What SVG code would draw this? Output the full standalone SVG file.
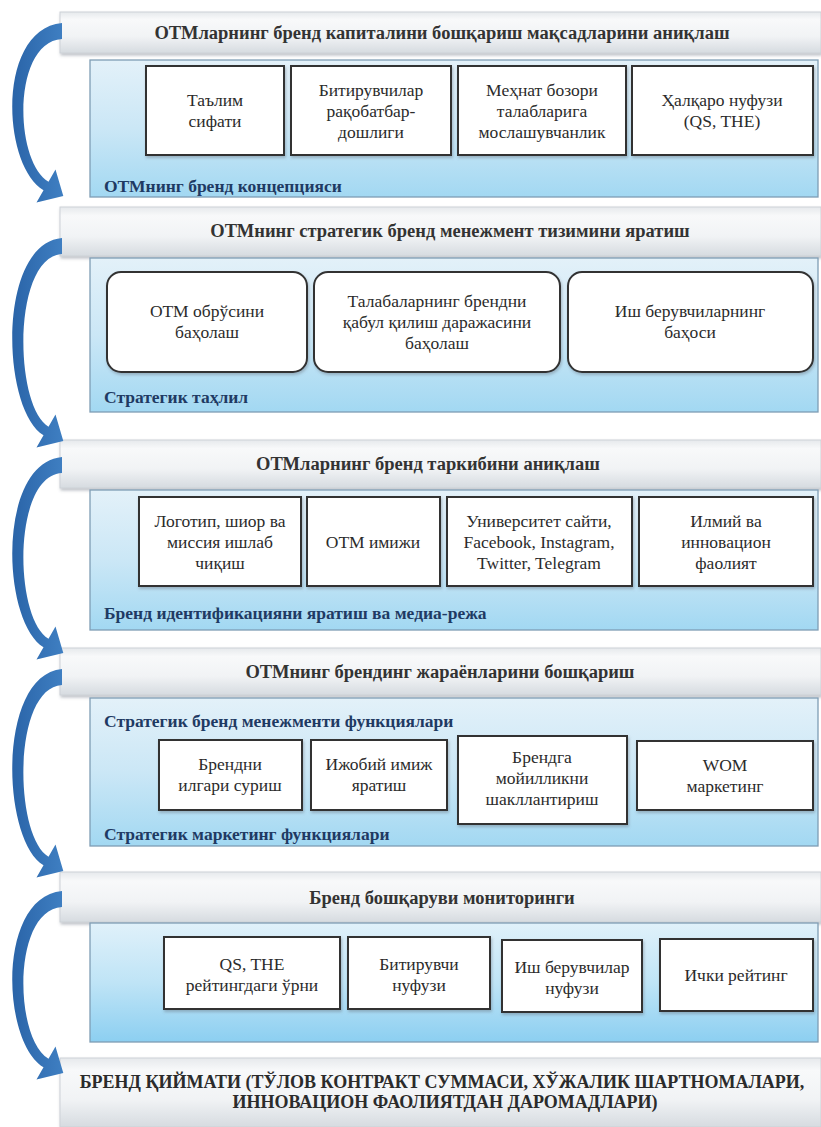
<svg xmlns="http://www.w3.org/2000/svg" width="821" height="1127" viewBox="0 0 821 1127">
<defs>
<linearGradient id="bandGrad" x1="0" y1="0" x2="0" y2="1">
<stop offset="0" stop-color="#e6e9ec"/>
<stop offset="0.18" stop-color="#f8f9fa"/>
<stop offset="0.6" stop-color="#f1f3f5"/>
<stop offset="1" stop-color="#d6dbe0"/>
</linearGradient>
<linearGradient id="panelGrad" x1="0" y1="0" x2="0" y2="1">
<stop offset="0" stop-color="#e3f1f9"/>
<stop offset="0.5" stop-color="#cbe7f6"/>
<stop offset="1" stop-color="#a2d8f2"/>
</linearGradient>
<linearGradient id="panelGrad5" x1="0" y1="0" x2="0" y2="1">
<stop offset="0" stop-color="#e0f1fa"/>
<stop offset="0.5" stop-color="#bfe4f6"/>
<stop offset="1" stop-color="#8ccff1"/>
</linearGradient>
<linearGradient id="arrowGrad" x1="0" y1="0" x2="1" y2="0">
<stop offset="0" stop-color="#2a64a8"/>
<stop offset="1" stop-color="#3f7fc2"/>
</linearGradient>
<filter id="sh" x="-5%" y="-10%" width="110%" height="130%">
<feDropShadow dx="1" dy="2" stdDeviation="1.5" flood-color="#6b7480" flood-opacity="0.45"/>
</filter>
</defs>
<style>
.band{fill:url(#bandGrad);stroke:#cdd2d7;stroke-width:1}
.panel{fill:url(#panelGrad);stroke:#7f9db4;stroke-width:1.3}
.box{fill:#ffffff;stroke:#333333;stroke-width:2}
.arrow{fill:url(#arrowGrad)}
text{font-family:"Liberation Serif","DejaVu Serif","Times New Roman",serif}
.t{font-size:17.5px;fill:#2b2b2b;text-anchor:middle}
.h{font-size:18.5px;font-weight:bold;fill:#333333;text-anchor:middle}
.lbl{font-size:17.5px;font-weight:bold;fill:#1f3a63}
.btm{font-size:18px;font-weight:bold;fill:#2b2b2b;text-anchor:middle}
</style>
<rect width="821" height="1127" fill="#ffffff"/>

<g id="section1">
<rect class="band" x="60" y="12" width="761" height="41" filter="url(#sh)"/>
<text class="h" x="442" y="39">ОТМларнинг бренд капиталини бошқариш мақсадларини аниқлаш</text>
<rect class="panel" x="90" y="60" width="728" height="137"/>
<g id="s1b1"><rect class="box" x="146" y="66" width="138" height="89" filter="url(#sh)"/>
<text class="t" x="215" y="106">Таълим</text><text class="t" x="215" y="127">сифати</text></g>
<g id="s1b2"><rect class="box" x="291" y="66" width="160" height="89" filter="url(#sh)"/>
<text class="t" x="371" y="96">Битирувчилар</text><text class="t" x="371" y="117">рақобатбар-</text><text class="t" x="371" y="138">дошлиги</text></g>
<g id="s1b3"><rect class="box" x="458" y="66" width="168" height="89" filter="url(#sh)"/>
<text class="t" x="542" y="96">Меҳнат бозори</text><text class="t" x="542" y="117">талабларига</text><text class="t" x="542" y="138">мослашувчанлик</text></g>
<g id="s1b4"><rect class="box" x="632" y="66" width="181" height="89" filter="url(#sh)"/>
<text class="t" x="722" y="106">Ҳалқаро нуфузи</text><text class="t" x="722" y="127">(QS, THE)</text></g>
<text class="lbl" x="104" y="192">ОТМнинг бренд концепцияси</text>
</g>

<g id="section2">
<rect class="band" x="60" y="207" width="761" height="49" filter="url(#sh)"/>
<text class="h" x="450" y="237">ОТМнинг стратегик бренд менежмент тизимини яратиш</text>
<rect class="panel" x="90" y="258" width="728" height="154"/>
<g id="s2b1"><rect class="box" x="107" y="272" width="200" height="100" rx="14" filter="url(#sh)"/>
<text class="t" x="207" y="317">ОТМ обрўсини</text><text class="t" x="207" y="338">баҳолаш</text></g>
<g id="s2b2"><rect class="box" x="314" y="272" width="246" height="100" rx="14" filter="url(#sh)"/>
<text class="t" x="437" y="307">Талабаларнинг брендни</text><text class="t" x="437" y="328">қабул қилиш даражасини</text><text class="t" x="437" y="349">баҳолаш</text></g>
<g id="s2b3"><rect class="box" x="568" y="272" width="245" height="100" rx="14" filter="url(#sh)"/>
<text class="t" x="690" y="317">Иш берувчиларнинг</text><text class="t" x="690" y="338">баҳоси</text></g>
<text class="lbl" x="104" y="403">Стратегик таҳлил</text>
</g>

<g id="section3">
<rect class="band" x="60" y="440" width="761" height="48" filter="url(#sh)"/>
<text class="h" x="428" y="470">ОТМларнинг бренд таркибини аниқлаш</text>
<rect class="panel" x="90" y="490" width="728" height="140"/>
<g id="s3b1"><rect class="box" x="139" y="497" width="162" height="89" filter="url(#sh)"/>
<text class="t" x="220" y="527">Логотип, шиор ва</text><text class="t" x="220" y="548">миссия ишлаб</text><text class="t" x="220" y="569">чиқиш</text></g>
<g id="s3b2"><rect class="box" x="307" y="497" width="133" height="89" filter="url(#sh)"/>
<text class="t" x="373" y="548">ОТМ имижи</text></g>
<g id="s3b3"><rect class="box" x="447" y="497" width="185" height="89" filter="url(#sh)"/>
<text class="t" x="539" y="527">Университет сайти,</text><text class="t" x="539" y="548">Facebook, Instagram,</text><text class="t" x="539" y="569">Twitter, Telegram</text></g>
<g id="s3b4"><rect class="box" x="639" y="497" width="174" height="89" filter="url(#sh)"/>
<text class="t" x="726" y="527">Илмий ва</text><text class="t" x="726" y="548">инновацион</text><text class="t" x="726" y="569">фаолият</text></g>
<text class="lbl" x="104" y="619">Бренд идентификацияни яратиш ва медиа-режа</text>
</g>

<g id="section4">
<rect class="band" x="60" y="648" width="761" height="47" filter="url(#sh)"/>
<text class="h" x="440" y="678">ОТМнинг брендинг жараёнларини бошқариш</text>
<rect class="panel" x="90" y="698" width="728" height="148"/>
<text class="lbl" x="104" y="727">Стратегик бренд менежменти функциялари</text>
<g id="s4b1"><rect class="box" x="159" y="740" width="143" height="70" filter="url(#sh)"/>
<text class="t" x="230" y="770">Брендни</text><text class="t" x="230" y="791">илгари суриш</text></g>
<g id="s4b2"><rect class="box" x="311" y="740" width="136" height="70" filter="url(#sh)"/>
<text class="t" x="379" y="770">Ижобий имиж</text><text class="t" x="379" y="791">яратиш</text></g>
<g id="s4b3"><rect class="box" x="458" y="736" width="169" height="88" filter="url(#sh)"/>
<text class="t" x="542" y="763">Брендга</text><text class="t" x="542" y="784">мойилликни</text><text class="t" x="542" y="805">шакллантириш</text></g>
<g id="s4b4"><rect class="box" x="637" y="741" width="176" height="69" filter="url(#sh)"/>
<text class="t" x="725" y="771">WOM</text><text class="t" x="725" y="792">маркетинг</text></g>
<text class="lbl" x="104" y="840">Стратегик маркетинг функциялари</text>
</g>

<g id="section5">
<rect class="band" x="60" y="872" width="761" height="50" filter="url(#sh)"/>
<text class="h" x="442" y="904">Бренд бошқаруви мониторинги</text>
<rect class="panel" x="90" y="923" width="728" height="119" style="fill:url(#panelGrad5)"/>
<g id="s5b1"><rect class="box" x="164" y="937" width="176" height="72" filter="url(#sh)"/>
<text class="t" x="252" y="970">QS, THE</text><text class="t" x="252" y="991">рейтингдаги ўрни</text></g>
<g id="s5b2"><rect class="box" x="348" y="937" width="142" height="72" filter="url(#sh)"/>
<text class="t" x="419" y="970">Битирувчи</text><text class="t" x="419" y="991">нуфузи</text></g>
<g id="s5b3"><rect class="box" x="502" y="940" width="140" height="72" filter="url(#sh)"/>
<text class="t" x="572" y="973">Иш берувчилар</text><text class="t" x="572" y="994">нуфузи</text></g>
<g id="s5b4"><rect class="box" x="660" y="939" width="153" height="72" filter="url(#sh)"/>
<text class="t" x="736" y="981">Ички рейтинг</text></g>
</g>

<g id="result">
<rect class="band" x="60" y="1058" width="761" height="69" filter="url(#sh)"/>
<text class="btm" x="442" y="1088">БРЕНД ҚИЙМАТИ (ТЎЛОВ КОНТРАКТ СУММАСИ, ХЎЖАЛИК ШАРТНОМАЛАРИ,</text>
<text class="btm" x="445" y="1108">ИННОВАЦИОН ФАОЛИЯТДАН ДАРОМАДЛАРИ)</text>
</g>

<g id="connectors">
<path class="arrow" d="M 62,23 C -3,29 1,164.3 43.5,190.33 L 36.5,202.45 L 63.3,196 L 55.5,169.55 L 48.5,181.67 C 13.9,161.7 12,42 62,39 Z"/>
<path class="arrow" d="M 62,238 C -3,244 1,409.3 43.5,435.33 L 36.5,447.45 L 63.3,441 L 55.5,414.55 L 48.5,426.67 C 13.9,406.7 12,257 62,254 Z"/>
<path class="arrow" d="M 62,457 C -3,463 1,621.3 43.5,647.33 L 36.5,659.45 L 63.3,653 L 55.5,626.55 L 48.5,638.67 C 13.9,618.7 12,476 62,473 Z"/>
<path class="arrow" d="M 62,669 C -3,675 1,839.3 43.5,865.33 L 36.5,877.45 L 63.3,871 L 55.5,844.55 L 48.5,856.67 C 13.9,836.7 12,688 62,685 Z"/>
<path class="arrow" d="M 62,891 C -3,897 1,1041.3 43.5,1067.33 L 36.5,1079.45 L 63.3,1073 L 55.5,1046.55 L 48.5,1058.67 C 13.9,1038.7 12,910 62,907 Z"/>
</g>
</svg>
